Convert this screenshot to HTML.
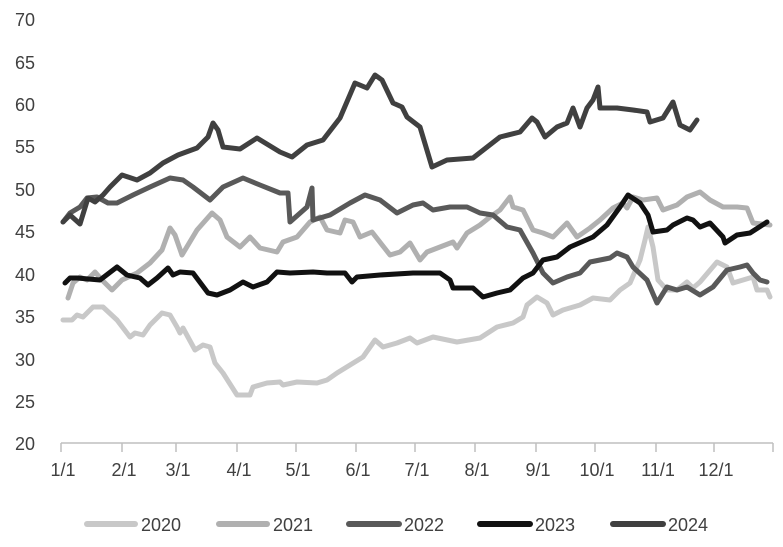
<!DOCTYPE html>
<html><head><meta charset="utf-8"><style>
html,body{margin:0;padding:0;background:#fff;}
svg{display:block;font-family:"Liberation Sans",sans-serif;}
</style></head><body>
<svg width="783" height="547" viewBox="0 0 783 547" xmlns="http://www.w3.org/2000/svg">
<g font-size="18" fill="#404040" text-anchor="end">
<text x="35" y="26">70</text><text x="35" y="69">65</text><text x="35" y="111">60</text>
<text x="35" y="153">55</text><text x="35" y="196">50</text><text x="35" y="238">45</text>
<text x="35" y="281">40</text><text x="35" y="323">35</text><text x="35" y="366">30</text>
<text x="35" y="408">25</text><text x="35" y="450">20</text>
</g>
<g stroke="#bfbfbf" stroke-width="1.5">
<line x1="61" y1="443" x2="773" y2="443"/>
<line x1="61" y1="443" x2="61" y2="452"/><line x1="122" y1="443" x2="122" y2="452"/>
<line x1="176" y1="443" x2="176" y2="452"/><line x1="237" y1="443" x2="237" y2="452"/>
<line x1="296" y1="443" x2="296" y2="452"/><line x1="356" y1="443" x2="356" y2="452"/>
<line x1="415" y1="443" x2="415" y2="452"/><line x1="475" y1="443" x2="475" y2="452"/>
<line x1="536" y1="443" x2="536" y2="452"/><line x1="595" y1="443" x2="595" y2="452"/>
<line x1="656" y1="443" x2="656" y2="452"/><line x1="714" y1="443" x2="714" y2="452"/>
<line x1="773" y1="443" x2="773" y2="452"/>
</g>
<g font-size="18" fill="#404040" text-anchor="middle">
<text x="63" y="476">1/1</text><text x="124" y="476">2/1</text><text x="178" y="476">3/1</text>
<text x="239" y="476">4/1</text><text x="298" y="476">5/1</text><text x="358" y="476">6/1</text>
<text x="417" y="476">7/1</text><text x="477" y="476">8/1</text><text x="538" y="476">9/1</text>
<text x="597" y="476">10/1</text><text x="658" y="476">11/1</text><text x="716" y="476">12/1</text>
</g>
<g fill="none" stroke-width="5" stroke-linejoin="round" stroke-linecap="round">
<polyline stroke="#c8c8c8" points="63,320 72,320 77,315 83,317 93,307 103,307 117,320 130,337 135,333 143,335 150,325 162,313 170,315 177,327 180,333 183,328 195,350 203,345 210,347 215,363 223,373 237,395 250,395 253,387 267,383 280,382 283,385 297,382 317,383 327,380 337,373 350,365 363,357 375,340 383,347 397,343 410,338 417,343 433,337 457,342 480,338 497,327 513,323 523,317 527,305 537,297 547,303 553,315 563,310 580,305 593,298 610,300 620,290 630,283 640,260 645,240 648,227 653,247 658,280 667,290 677,290 687,282 693,288 700,282 717,262 727,267 733,283 743,280 753,277 757,290 767,290 770,297"/>
<polyline stroke="#b0b0b0" points="68,298 73,283 80,277 87,280 95,272 102,280 112,290 122,280 137,273 150,263 162,250 170,228 175,235 182,255 197,230 212,213 220,220 227,237 240,247 250,237 260,248 277,252 283,242 297,237 310,222 320,217 327,230 340,233 345,220 353,222 360,237 372,232 390,255 400,252 410,243 420,260 427,252 440,247 453,242 457,248 467,233 480,225 490,217 500,210 510,197 513,207 523,210 533,230 543,233 553,237 567,223 577,237 590,228 600,220 613,208 623,203 627,208 633,197 643,200 657,198 663,210 677,205 687,197 700,192 710,200 723,207 737,207 747,208 753,223 770,225"/>
<polyline stroke="#595959" points="63,222 70,213 80,207 87,198 97,197 108,203 117,203 133,195 150,187 170,178 183,180 193,187 210,200 223,187 243,178 260,185 280,193 288,193 290,222 307,207 312,188 313,220 330,215 350,203 365,195 380,200 397,213 413,205 423,203 433,210 450,207 467,207 480,213 493,215 507,227 520,230 533,253 543,273 553,283 567,277 580,273 590,262 610,258 617,253 627,257 633,267 647,280 657,303 667,287 677,290 687,287 700,295 713,287 727,270 740,267 747,265 753,273 760,280 767,282"/>
<polyline stroke="#111111" points="65,283 70,278 77,278 100,280 117,267 127,275 140,278 148,285 157,278 168,268 173,275 180,272 193,273 208,293 217,295 230,290 243,282 253,287 267,282 277,272 290,273 313,272 327,273 345,273 352,282 357,277 380,275 413,273 440,273 450,280 453,288 473,288 483,297 497,293 510,290 523,278 533,273 543,260 557,257 570,247 593,237 607,225 620,207 628,195 640,203 648,215 653,232 667,230 673,225 687,218 693,220 700,227 710,223 723,237 725,243 737,235 750,233 767,222"/>
<polyline stroke="#404040" points="63,222 70,215 80,224 88,198 95,202 103,195 110,187 122,175 137,180 150,173 163,163 178,155 197,148 208,137 213,123 218,130 223,147 240,149 257,138 280,152 292,157 307,145 323,140 340,118 355,83 367,88 375,75 382,80 393,103 402,107 407,117 420,127 432,167 447,160 473,158 500,137 520,132 532,118 537,122 545,137 557,127 567,123 573,108 580,127 587,108 593,100 598,87 600,108 617,108 633,110 647,112 650,122 663,118 673,102 680,125 690,130 697,120"/>
</g>
<g stroke-width="6" stroke-linecap="round">
<line x1="87" y1="524" x2="135" y2="524" stroke="#c8c8c8"/>
<line x1="219" y1="524" x2="267" y2="524" stroke="#b0b0b0"/>
<line x1="349" y1="524" x2="399" y2="524" stroke="#595959"/>
<line x1="480" y1="524" x2="530" y2="524" stroke="#111111"/>
<line x1="613" y1="524" x2="663" y2="524" stroke="#404040"/>
</g>
<g font-size="18" fill="#404040">
<text x="141" y="531">2020</text><text x="273" y="531">2021</text>
<text x="404" y="531">2022</text><text x="535" y="531">2023</text><text x="668" y="531">2024</text>
</g>
</svg>
</body></html>
